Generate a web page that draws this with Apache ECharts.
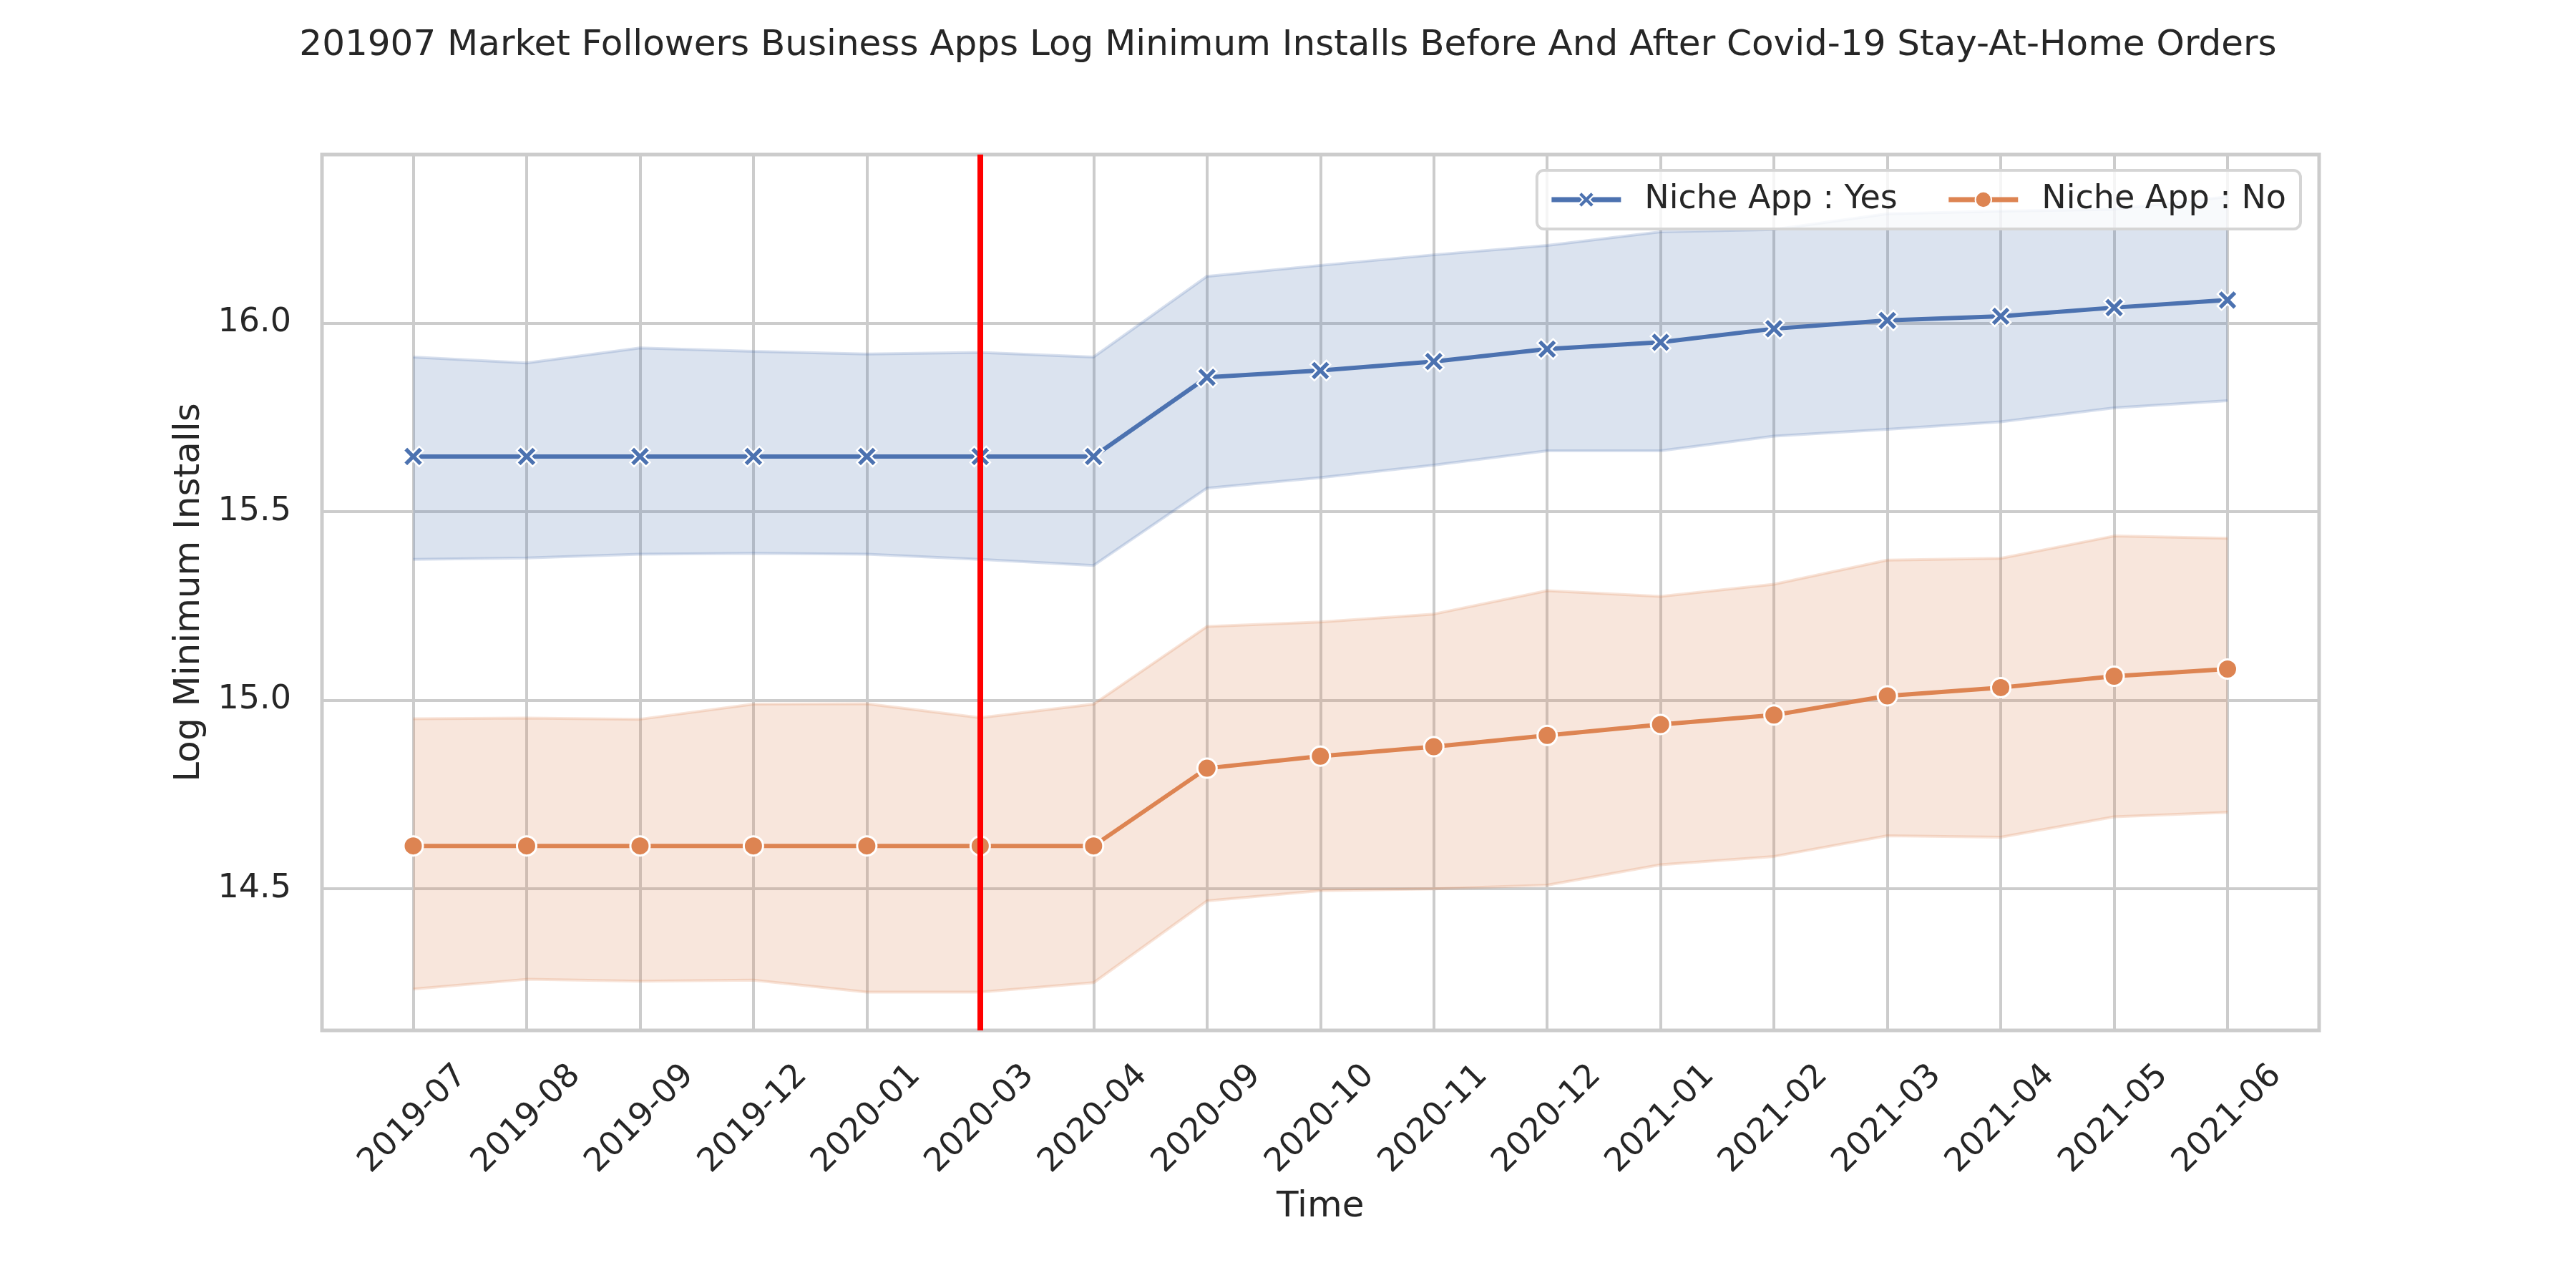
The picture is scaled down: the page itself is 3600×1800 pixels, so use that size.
<!DOCTYPE html>
<html>
<head>
<meta charset="utf-8">
<script src="https://cdn.jsdelivr.net/npm/echarts@6/dist/echarts.min.js"></script>
<style>
  html, body { margin: 0; padding: 0; background: #fff; }
  #chart { width: 3600px; height: 1800px; }
</style>
</head>
<body>
<div id="chart"></div>
<script>
// months on the x axis
var months = ['2019-07', '2019-08', '2019-09', '2019-12', '2020-01', '2020-03', '2020-04',
  '2020-09', '2020-10', '2020-11', '2020-12', '2021-01', '2021-02', '2021-03', '2021-04',
  '2021-05', '2021-06'];

// Niche App : Yes
var yesMean = [15.646, 15.646, 15.646, 15.646, 15.646, 15.646, 15.646, 15.856, 15.874, 15.898,
  15.931, 15.949, 15.985, 16.007, 16.018, 16.041, 16.061];
var yesLow = [15.373, 15.377, 15.387, 15.389, 15.387, 15.373, 15.357, 15.562, 15.590, 15.623,
  15.661, 15.661, 15.700, 15.718, 15.738, 15.775, 15.794];
var yesHigh = [15.910, 15.894, 15.934, 15.925, 15.918, 15.922, 15.910, 16.124, 16.153, 16.181,
  16.206, 16.242, 16.248, 16.290, 16.297, 16.302, 16.335];

// Niche App : No
var noMean = [14.613, 14.613, 14.613, 14.613, 14.613, 14.613, 14.613, 14.819, 14.851, 14.876,
  14.906, 14.935, 14.960, 15.011, 15.033, 15.063, 15.082];
var noLow = [14.233, 14.259, 14.254, 14.257, 14.225, 14.225, 14.250, 14.467, 14.494, 14.499,
  14.509, 14.563, 14.585, 14.640, 14.636, 14.690, 14.702];
var noHigh = [14.950, 14.952, 14.949, 14.989, 14.990, 14.953, 14.989, 15.195, 15.207, 15.228,
  15.290, 15.275, 15.307, 15.371, 15.376, 15.435, 15.429];

var orderMonth = '2020-03';
var yMin = 14.1235, yMax = 16.447;

const blue = '#4c72b0';
const orange = '#dd8452';
const gridColor = '#cccccc';
const textColor = '#262626';
const font = 'DejaVu Sans';

// filled "X" marker like matplotlib
const xMarker = 'path://M2,0 L5,3 L8,0 L10,2 L7,5 L10,8 L8,10 L5,7 L2,10 L0,8 L3,5 L0,2 Z';

function diff(hi, lo) {
  return hi.map((v, i) => +(v - lo[i]).toFixed(4));
}

function bandSeries(name, lo, hi, rgb) {
  let edge = 'rgba(' + rgb + ',0.22)';
  return [{
    name: name + ' low',
    type: 'line',
    xAxisIndex: 1, yAxisIndex: 1,
    stack: name,
    symbol: 'none',
    silent: true,
    lineStyle: { color: edge, width: 4 },
    data: lo,
    z: 1
  }, {
    name: name + ' band',
    type: 'line',
    xAxisIndex: 1, yAxisIndex: 1,
    stack: name,
    symbol: 'none',
    silent: true,
    lineStyle: { color: edge, width: 4 },
    areaStyle: { color: 'rgba(' + rgb + ',0.2)', opacity: 1 },
    data: diff(hi, lo),
    z: 1
  }];
}

let myChart = echarts.init(document.getElementById('chart'), null, { renderer: 'canvas' });

let option = {
  backgroundColor: '#ffffff',
  animation: false,
  textStyle: { fontFamily: font, color: textColor },
  title: {
    text: '201907 Market Followers Business Apps Log Minimum Installs Before And After Covid-19 Stay-At-Home Orders',
    left: 'center',
    top: 34,
    textStyle: { fontFamily: font, fontSize: 50, fontWeight: 'normal', color: textColor }
  },
  legend: {
    data: [
      { name: 'Niche App : Yes', itemStyle: { color: blue, borderColor: '#fff', borderWidth: 2 }, lineStyle: { color: blue, width: 7, opacity: 1 } },
      { name: 'Niche App : No', itemStyle: { color: orange, borderColor: '#fff', borderWidth: 2 }, lineStyle: { color: orange, width: 7, opacity: 1 } }
    ],
    right: 385,
    top: 238,
    orient: 'horizontal',
    itemWidth: 97,
    itemHeight: 28,
    itemGap: 68,
    padding: [18, 20, 18, 17],
    backgroundColor: 'rgba(255,255,255,0.8)',
    borderColor: '#d5d5d5',
    borderWidth: 4,
    borderRadius: 10,
    textStyle: { fontFamily: font, fontSize: 46, color: textColor, padding: [0, 0, 0, 28] }
  },
  grid: [
    // outer frame, matplotlib axes box
    { left: 450, right: 359, top: 216, bottom: 360, show: true, borderColor: gridColor, borderWidth: 5, backgroundColor: '#fff' },
    // data area between first and last category
    { left: 577.5, right: 487, top: 216, bottom: 360 }
  ],
  xAxis: [
    { gridIndex: 0, type: 'value', min: 0, max: 1, show: false },
    {
      gridIndex: 1,
      type: 'category',
      data: months,
      boundaryGap: false,
      name: 'Time',
      nameLocation: 'middle',
      nameGap: 222,
      nameTextStyle: { fontFamily: font, fontSize: 50, color: textColor },
      axisLine: { show: false },
      axisTick: { show: false },
      axisLabel: {
        interval: 0,
        rotate: 45,
        align: 'center',
        verticalAlign: 'middle',
        margin: 124,
        fontFamily: font,
        fontSize: 46,
        color: textColor
      },
      splitLine: { show: true, interval: 0, lineStyle: { color: gridColor, width: 4 } }
    }
  ],
  yAxis: [
    {
      gridIndex: 0,
      type: 'value',
      min: yMin,
      max: yMax,
      name: 'Log Minimum Installs',
      nameLocation: 'middle',
      nameGap: 160,
      nameTextStyle: { fontFamily: font, fontSize: 50, color: textColor },
      axisLine: { show: false },
      axisTick: { show: false },
      axisLabel: {
        showMinLabel: false,
        showMaxLabel: false,
        margin: 43,
        fontFamily: font,
        fontSize: 46,
        color: textColor,
        formatter: v => v.toFixed(1)
      },
      splitLine: { show: true, lineStyle: { color: gridColor, width: 4 } }
    },
    { gridIndex: 1, type: 'value', min: yMin, max: yMax, show: false }
  ],
  series: [].concat(
    bandSeries('yes', yesLow, yesHigh, '76,114,176'),
    bandSeries('no', noLow, noHigh, '221,132,82'),
    [{
      name: 'Niche App : Yes',
      type: 'line',
      xAxisIndex: 1, yAxisIndex: 1,
      data: yesMean,
      symbol: xMarker,
      symbolSize: 28,
      showAllSymbol: true,
      lineStyle: { color: blue, width: 6 },
      itemStyle: { color: blue, borderColor: '#fff', borderWidth: 2.5 },
      z: 3
    }, {
      name: 'Niche App : No',
      type: 'line',
      xAxisIndex: 1, yAxisIndex: 1,
      data: noMean,
      symbol: 'circle',
      symbolSize: 27,
      showAllSymbol: true,
      lineStyle: { color: orange, width: 6 },
      itemStyle: { color: orange, borderColor: '#fff', borderWidth: 3 },
      z: 4
    }, {
      // stay-at-home order marker
      name: 'order',
      type: 'line',
      xAxisIndex: 1, yAxisIndex: 1,
      data: [],
      z: 10,
      markLine: {
        silent: true,
        symbol: 'none',
        label: { show: false },
        lineStyle: { color: '#ff0000', width: 8, type: 'solid' },
        data: [{ xAxis: orderMonth }]
      }
    }]
  )
};

myChart.setOption(option);
</script>
</body>
</html>
